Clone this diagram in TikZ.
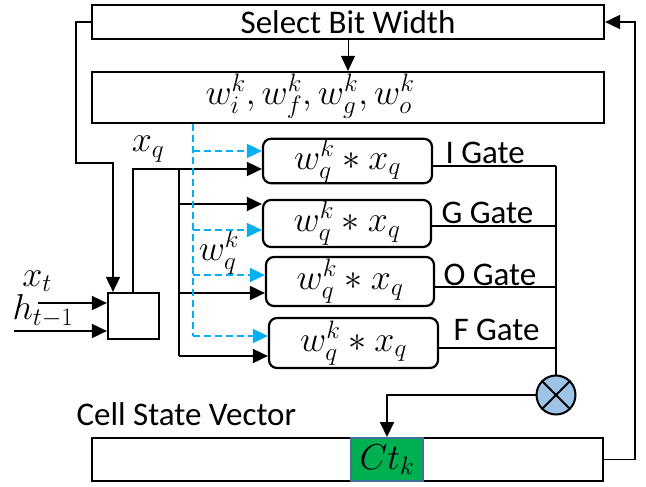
\RequirePackage{fix-cm}
\documentclass[tikz,border=0pt]{standalone}
\usepackage{fontspec}
\setmainfont{Carlito}
\usetikzlibrary{arrows.meta}
\definecolor{dashblue}{RGB}{0,176,240}
\definecolor{multblue}{RGB}{157,195,230}
\definecolor{cellgreen}{RGB}{0,176,80}
\definecolor{cellborder}{RGB}{65,113,156}
\begin{document}
\begin{tikzpicture}[x=1pt,y=-1pt,
  txt/.style={font=\fontsize{33}{38}\selectfont},
  mth/.style={font=\fontsize{36}{40}\selectfont},
  box/.style={draw,line width=2.2pt,inner sep=0pt},
  gatebox/.style={box,rounded corners=8pt},
  conn/.style={line width=1.8pt},
  arr/.style={conn,-{Triangle[length=15pt,width=14pt]}},
  bdash/.style={draw=dashblue,line width=1.6pt,dash pattern=on 7pt off 4pt},
  barr/.style={bdash,-{Triangle[length=15pt,width=14pt]}}
]
\useasboundingbox (0,0) rectangle (646,487);
% boxes
\node[box,txt,minimum width=512pt,minimum height=34pt] (sel) at (348,22) {Select Bit Width};
\node[box,minimum width=512pt,minimum height=51pt] (wbox) at (348,97.5) {};
\node[mth] (wtxt) at (310,96) {$w_i^k,w_f^k,w_g^k,w_o^k$};
\node[box,minimum width=51pt,minimum height=46pt] (mux) at (133.5,316) {};
\node[gatebox,mth,minimum width=169pt,minimum height=44pt] (g1) at (347.5,161) {$w_q^k*x_q$};
\node[gatebox,mth,minimum width=168pt,minimum height=47pt] (g2) at (347,223.5) {$w_q^k*x_q$};
\node[gatebox,mth,minimum width=168pt,minimum height=49pt] (g3) at (350,281.5) {$w_q^k*x_q$};
\node[gatebox,mth,minimum width=169pt,minimum height=50pt] (g4) at (353.5,343) {$w_q^k*x_q$};
\node[box,minimum width=511pt,minimum height=43pt] (cell) at (347.5,459.5) {};
\node[draw=cellborder,fill=cellgreen,line width=2pt,mth,minimum width=72pt,minimum height=43pt,inner sep=0pt] (green) at (387,459.5) {$Ct_k$};
\node[circle,draw,fill=multblue,line width=2pt,minimum size=39pt,inner sep=0pt] (mult) at (556,395) {};
\draw[line width=2pt] (mult.north west) -- (mult.south east) (mult.north east) -- (mult.south west);
% labels
\node[mth] (lxt) at (37,281) {$x_t$};
\node[mth] (lht) at (43,311) {$h_{t-1}$};
\node[mth] (lxq) at (148,149) {$x_q$};
\node[mth] (lwq) at (219,252) {$w_q^k$};
\node[txt,anchor=base west] (lI) at (442,163) {I Gate};
\node[txt,anchor=base west] (lG) at (438,223) {G Gate};
\node[txt,anchor=base west] (lO) at (440,285) {O Gate};
\node[txt,anchor=base west] (lF) at (450,340) {F Gate};
\node[txt,anchor=base west] (lcell) at (73,425) {Cell State Vector};
% connectors
\draw[conn,line width=1pt,-{Triangle[length=15pt,width=14pt]}] (sel.south) -- (wbox.north);
\coordinate (lf) at (76,163);
\draw[arr] (sel.west) -| (lf) -| (113,0 |- mux.north);
\coordinate (xt) at (38,303);
\coordinate (ht) at (14,331);
\draw[arr] (xt) -- (mux.west |- xt);
\draw[arr] (ht) -- (mux.west |- ht);
\coordinate (xq) at (133,169);
\draw[arr] (133,0 |- mux.north) -- (xq) -- (g1.west |- xq);
\draw[conn] (179,169) -- (179,356);
\draw[arr] (179,204) -- (g2.west |- 0,204);
\draw[arr] (179,293) -- (g3.west |- 0,293);
\draw[arr] (179,356) -- (g4.west |- 0,356);
\draw[bdash] (193,0 |- wbox.south) -- (193,336);
\draw[barr] (193,151) -- (g1.west |- 0,151);
\draw[barr] (193,230) -- (g2.west |- 0,230);
\draw[barr] (193,275) -- (g3.west |- 0,275);
\draw[barr] (193,336) -- (g4.west |- 0,336);
\draw[conn] (g1.east |- 0,166) -- (556,166);
\draw[conn] (g2.east |- 0,226) -- (556,226);
\draw[conn] (g3.east |- 0,287) -- (556,287);
\draw[conn] (g4.east |- 0,348) -- (556,348);
\draw[conn] (556,166) -- (mult.north);
\draw[arr] (mult.west) -| (green.north);
\coordinate (rf) at (635,22);
\draw[arr] (cell.east) -| (rf) -- (sel.east);
\end{tikzpicture}
\end{document}
